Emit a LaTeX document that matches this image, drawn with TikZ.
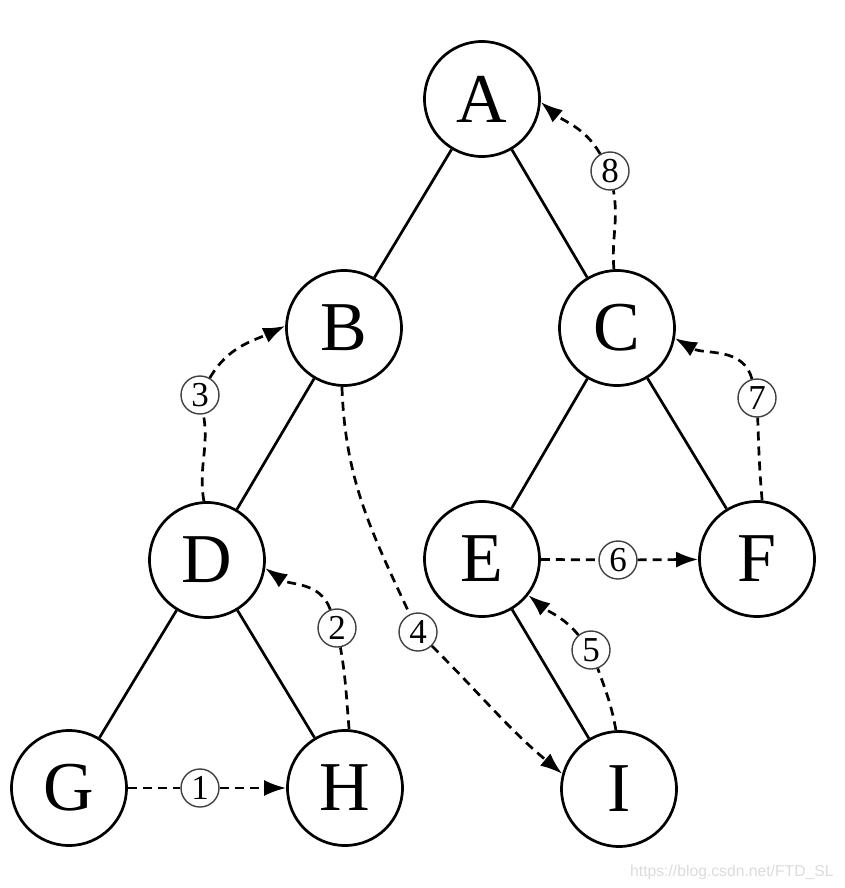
\documentclass[tikz,border=0pt]{standalone}
\usepackage{fontspec}
\newfontfamily\wmfont{Liberation Sans}
\newfontfamily\lblfont{Liberation Serif}
\usetikzlibrary{arrows.meta}
\begin{document}
\begin{tikzpicture}[x=1pt,y=-1pt,
  vtx/.style={circle,draw,line width=2.7pt,minimum size=115pt,inner sep=0pt,fill=white,font=\lblfont\fontsize{70}{72}\selectfont},
  num/.style={circle,draw=black!75,line width=1.4pt,minimum size=38pt,inner sep=0pt,fill=white,font=\lblfont\fontsize{35}{36}\selectfont},
  tree/.style={line width=2.7pt},
  trav/.style={line width=2.7pt,dash pattern=on 9pt off 6pt,-{Latex[length=22pt,width=16pt]}},
  trav0/.style={line width=2.7pt,dash pattern=on 9pt off 6pt}]
\useasboundingbox (0,0) rectangle (844,888);
% tree nodes
\node[vtx] (A) at (482,99) {A};
\node[vtx] (B) at (344,328) {B};
\node[vtx] (C) at (617,328) {C};
\node[vtx] (D) at (207,560) {D};
\node[vtx] (E) at (482,559) {E};
\node[vtx] (F) at (757,559) {F};
\node[vtx] (G) at (69,788) {G};
\node[vtx] (H) at (345,788) {H};
\node[vtx] (I) at (619,789) {I};
% tree edges
\draw[tree] (A) -- (B);
\draw[tree] (A) -- (C);
\draw[tree] (B) -- (D);
\draw[tree] (C) -- (E);
\draw[tree] (C) -- (F);
\draw[tree] (D) -- (G);
\draw[tree] (D) -- (H);
\draw[tree] (E) -- (I);
% step labels
\node[num] (n1) at (200,788) {1};
\node[num] (n2) at (337,628) {2};
\node[num] (n3) at (200,395) {3};
\node[num] (n4) at (418,632) {4};
\node[num] (n5) at (591,650) {5};
\node[num] (n6) at (618,560) {6};
\node[num] (n7) at (757,398) {7};
\node[num] (n8) at (610,171) {8};
% traversal arrows
\draw[trav0] (G) -- (n1);
\draw[trav] (n1) -- (H);
\draw[trav0] (H.86) to[out=95,in=-80] (n2);
\draw[trav] (n2) to[out=110,in=-35] (D.-8);
\draw[trav0] (D.93) to[out=100,in=-80] (n3);
\draw[trav] (n3) to[out=60,in=205] (B.178);
\draw[trav0] (B.-92) to[out=-88,in=115] (n4);
\draw[trav] (n4) to[out=-45,in=140] (I.165);
\draw[trav0] (I.93) to[out=100,in=-70] (n5);
\draw[trav] (n5) to[out=130,in=-40] (E.-38);
\draw[trav0] (E) -- (n6);
\draw[trav] (n6) -- (F);
\draw[trav0] (F.85) to[out=95,in=-88] (n7);
\draw[trav] (n7) to[out=105,in=-30] (C.-10);
\draw[trav0] (C.93) to[out=95,in=-80] (n8);
\draw[trav] (n8) to[out=120,in=-40] (A.-3);
% watermark
\node[anchor=base west,inner sep=0pt,text=black!14,font=\wmfont\fontsize{15.7}{17}\selectfont] (wm) at (630,876) {https://blog.csdn.net/FTD\_SL};
\end{tikzpicture}
\end{document}
